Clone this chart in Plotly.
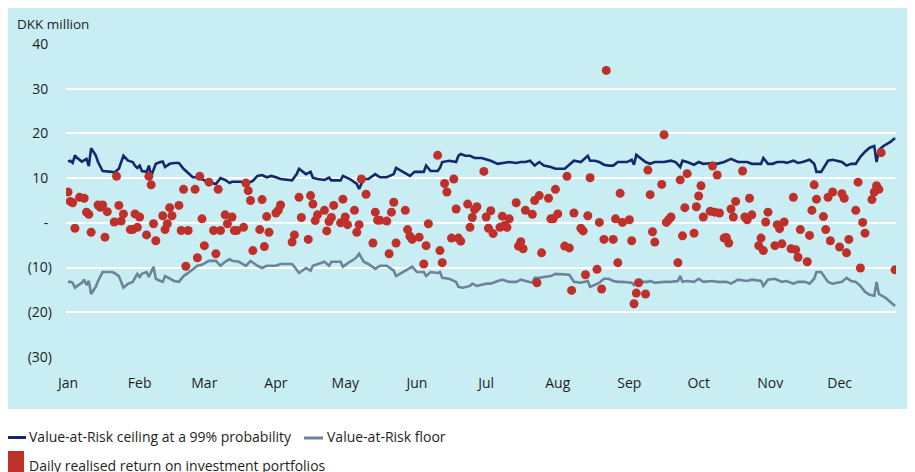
import pandas as pd
import plotly.graph_objects as go

# ---------------- data ----------------
YEAR_START = "2023-01-01"

ceiling_days = [0, 1, 2, 3, 4, 6, 8, 9, 10, 12, 13, 15, 19, 20, 22, 24, 26, 28, 29, 30, 31, 32, 34, 35, 36, 38,
                40, 41, 42, 44, 46, 48, 50, 52, 54, 56, 58, 61, 64, 66, 68, 70, 71, 75, 77, 80, 82, 84, 86, 88,
                90, 92, 97, 99, 100, 103, 105, 106, 108, 111, 113, 114, 118, 119, 122, 124, 125, 126, 128, 130,
                133, 135, 138, 141, 142, 145, 148, 150, 154, 155, 157, 160, 161, 162, 165, 168, 169, 170, 172,
                174, 176, 179, 183, 186, 188, 191, 194, 196, 198, 200, 202, 204, 206, 209, 211, 215, 217, 219,
                222, 225, 226, 228, 230, 232, 234, 236, 238, 240, 242, 244, 245, 246, 248, 250, 252, 254, 256,
                258, 261, 263, 265, 266, 268, 271, 273, 275, 279, 281, 284, 287, 290, 294, 296, 300, 301, 303,
                305, 307, 310, 311, 314, 316, 318, 321, 323, 324, 326, 329, 331, 333, 335, 337, 339, 341, 343,
                345, 347, 349, 350, 351, 353, 356, 358]
ceiling_vals = [13.7, 13.9, 13.4, 15.1, 14.5, 13.7, 14.3, 12.7, 16.7, 15.1, 13.6, 11.6, 11.4, 11.2, 12.1, 15.0,
                13.9, 13.6, 12.8, 12.3, 12.8, 11.6, 11.4, 12.8, 10.5, 13.2, 13.6, 13.7, 12.5, 13.2, 13.4, 13.4,
                12.1, 11.2, 10.2, 10.2, 9.7, 9.1, 8.7, 10.0, 9.6, 8.9, 9.2, 9.2, 8.7, 9.4, 10.5, 10.7, 10.2,
                10.5, 10.2, 9.8, 9.5, 10.9, 12.1, 10.9, 11.4, 10.1, 9.8, 9.6, 10.1, 9.5, 9.5, 10.5, 9.8, 9.1,
                8.7, 7.6, 9.8, 9.8, 10.9, 10.2, 10.2, 10.9, 12.3, 11.4, 10.5, 11.4, 11.4, 12.8, 11.6, 11.6, 12.3,
                13.6, 13.9, 13.6, 15.0, 15.4, 15.0, 15.0, 14.5, 14.5, 13.9, 13.2, 13.4, 13.6, 13.4, 13.6, 13.6,
                13.9, 12.8, 13.6, 12.8, 12.5, 12.1, 12.1, 13.0, 13.9, 13.6, 15.0, 13.9, 13.9, 13.6, 13.0, 12.8,
                12.8, 13.6, 13.6, 13.6, 14.1, 13.0, 15.2, 14.3, 13.6, 13.2, 13.6, 13.6, 13.6, 13.9, 13.6, 12.5,
                13.9, 13.6, 13.0, 13.6, 13.2, 13.4, 13.2, 13.6, 14.3, 13.6, 13.6, 13.2, 13.2, 14.5, 13.2, 13.2,
                13.6, 13.6, 13.4, 13.9, 13.4, 13.6, 14.1, 13.2, 11.4, 11.4, 13.9, 14.1, 13.9, 13.6, 12.8, 13.2,
                13.2, 14.8, 15.9, 16.8, 17.2, 13.6, 16.3, 17.2, 18.1, 19.0]

floor_days = [0, 1, 2, 3, 4, 6, 7, 8, 9, 10, 12, 13, 15, 19, 20, 22, 24, 26, 28, 29, 30, 31, 32, 34, 35, 37,
              38, 40, 41, 42, 44, 46, 48, 50, 52, 54, 56, 58, 61, 64, 66, 68, 70, 71, 74, 77, 79, 82, 84, 86,
              88, 90, 92, 97, 99, 100, 103, 105, 106, 108, 111, 113, 114, 118, 119, 122, 124, 125, 126, 128,
              130, 133, 135, 138, 141, 142, 145, 149, 151, 154, 155, 157, 160, 161, 162, 165, 168, 169, 171,
              174, 175, 177, 181, 183, 186, 188, 191, 194, 196, 199, 201, 202, 204, 206, 209, 211, 215, 217,
              219, 222, 225, 226, 228, 230, 232, 234, 236, 238, 240, 244, 245, 246, 248, 251, 252, 254, 258,
              261, 264, 265, 266, 268, 271, 273, 275, 279, 281, 284, 285, 287, 290, 294, 296, 300, 301, 303,
              306, 309, 311, 314, 316, 319, 321, 323, 324, 326, 329, 331, 333, 335, 337, 339, 341, 343, 345,
              347, 349, 350, 351, 354, 356, 358]
floor_vals = [-13.2, -13.2, -13.4, -14.5, -14.1, -13.4, -12.7, -13.9, -13.0, -15.9, -14.3, -13.0, -11.0, -11.0,
              -11.2, -11.9, -14.5, -13.6, -13.2, -12.3, -11.4, -12.1, -11.4, -11.0, -12.1, -9.8, -12.5, -13.0,
              -13.2, -11.9, -12.5, -13.0, -13.2, -11.9, -11.2, -10.3, -9.6, -9.4, -8.5, -8.5, -9.6, -8.7, -8.1,
              -8.5, -8.7, -9.6, -8.5, -9.6, -10.1, -9.6, -9.6, -9.6, -9.2, -9.2, -10.5, -11.2, -10.1, -10.7,
              -9.6, -9.2, -8.7, -9.6, -8.7, -8.7, -9.8, -8.7, -8.1, -7.6, -6.9, -8.7, -9.2, -10.3, -9.6, -9.6,
              -10.7, -11.9, -11.0, -9.8, -11.0, -11.0, -11.9, -11.0, -11.2, -11.0, -12.3, -12.5, -13.2, -14.3,
              -14.5, -14.1, -13.6, -14.1, -13.6, -13.6, -13.0, -12.7, -13.2, -13.2, -12.7, -13.2, -13.4, -12.3,
              -12.3, -12.1, -11.9, -11.4, -11.6, -11.6, -13.2, -13.4, -13.0, -14.3, -13.9, -13.4, -12.5, -12.5,
              -13.0, -13.2, -13.2, -13.4, -13.9, -13.0, -13.2, -13.2, -13.0, -13.4, -13.2, -13.2, -13.0, -11.9,
              -13.2, -13.0, -13.2, -12.5, -13.2, -13.0, -13.2, -13.2, -13.2, -13.6, -12.7, -13.0, -12.7, -13.0,
              -14.1, -12.7, -12.5, -13.2, -13.0, -13.6, -13.2, -13.2, -13.6, -12.5, -11.0, -11.0, -13.2, -13.6,
              -13.4, -13.2, -12.3, -13.0, -13.2, -14.1, -15.4, -16.1, -16.3, -13.2, -15.9, -16.8, -17.7, -18.6]

return_days = [0, 1, 2, 3, 5, 7, 8, 9, 10, 13, 14, 15, 16, 17, 20, 21, 22, 23, 24, 27, 28, 29, 30, 31, 34, 35,
               36, 37, 38, 41, 42, 43, 44, 45, 48, 49, 50, 51, 52, 55, 56, 57, 58, 59, 61, 63, 64, 65, 66, 68,
               69, 71, 72, 73, 76, 77, 78, 79, 80, 83, 84, 85, 86, 87, 90, 91, 92, 97, 98, 100, 101, 104, 105,
               106, 107, 108, 111, 112, 113, 114, 115, 118, 119, 120, 121, 124, 125, 126, 127, 129, 132, 133,
               134, 135, 138, 139, 140, 141, 142, 146, 147, 148, 149, 152, 154, 155, 156, 160, 161, 162, 163,
               164, 166, 167, 168, 169, 170, 173, 174, 175, 176, 177, 180, 181, 182, 183, 184, 187, 188, 189,
               190, 191, 194, 195, 196, 197, 198, 201, 202, 203, 204, 205, 208, 209, 210, 211, 212, 215, 216,
               217, 218, 219, 222, 223, 224, 225, 226, 229, 230, 231, 232, 233, 236, 237, 238, 239, 240, 243,
               244, 245, 246, 247, 250, 251, 252, 253, 254, 257, 258, 259, 260, 261, 264, 265, 266, 267, 268,
               271, 272, 273, 274, 275, 278, 279, 280, 281, 282, 284, 285, 286, 287, 288, 289, 292, 293, 294,
               295, 296, 299, 300, 301, 302, 303, 306, 307, 308, 309, 310, 313, 314, 315, 316, 317, 320, 321,
               322, 323, 324, 327, 328, 329, 330, 331, 334, 335, 336, 337, 338, 341, 342, 343, 344, 345, 348,
               349, 350, 351, 352, 358]
return_vals = [6.9, 4.8, 4.5, -1.2, 5.7, 5.5, 2.4, 1.9, -2.1, 4.0, 3.5, 4.0, -3.2, 2.5, 0.2, 10.4, 3.9, 0.4,
               2.0, -1.5, -1.5, 2.0, -1.0, 1.3, -2.7, 10.4, 8.5, -0.2, -4.0, 1.6, -1.5, -0.2, 3.4, 1.6, 3.9,
               -1.7, 7.5, -9.7, -1.7, 7.5, -7.8, 10.4, 0.9, -5.1, 9.1, -1.7, -6.9, 7.5, -1.7, 1.8, -0.2, 1.3,
               -1.7, -1.7, -1.0, 8.9, 7.2, 5.0, -6.2, -1.5, 5.2, -5.3, 1.4, -2.1, 2.2, 2.8, 4.0, -4.3, -2.7,
               5.7, 1.2, -3.7, 6.1, 4.2, 0.5, 1.8, 2.8, -1.8, 0.3, 1.2, 3.9, 0.0, 5.3, 1.3, -0.4, 2.8, -2.1,
               -0.4, 9.8, 6.4, -4.5, 2.4, 0.6, 0.6, 0.4, -6.9, 2.4, 4.6, -4.5, 2.8, -1.5, -3.0, -3.7, -3.2,
               -9.2, -5.1, -0.2, 15.1, -6.2, -8.9, 8.8, 6.9, -3.4, 9.8, 3.1, -3.4, -4.1, 4.2, -1.0, 1.2, 3.0,
               3.6, 11.5, 1.3, -1.2, 2.7, -2.4, -1.0, 1.5, -0.6, -1.0, 0.9, 4.5, -5.2, -4.2, -5.8, 2.8, 1.9,
               5.0, -13.4, 6.1, -6.7, 5.5, 0.9, 0.9, 7.5, 2.0, -5.2, 10.4, -5.6, -15.1, 2.2, -1.2, -1.8, -11.6,
               1.6, 10.1, -10.4, 0.1, -14.8, -3.7, 34.1, -3.7, 0.9, -8.9, 6.6, 0.1, 0.7, -4.0, -18.1, -15.7,
               -13.4, -15.9, 11.8, 6.3, -2.0, -4.3, 8.6, 19.7, 0.1, 0.7, 1.3, -8.9, 9.6, -2.9, 3.4, 11.0, -2.3,
               3.6, 6.0, 8.3, 1.3, 2.6, 12.7, 2.4, 10.7, 2.2, -3.4, -3.3, -4.5, 3.1, 1.3, 4.8, 11.6, 1.3, 0.7,
               5.5, 1.8, -5.1, -3.4, -6.2, 0.2, 2.4, -5.1, -0.4, -1.3, -4.7, 0.2, -5.8, 5.7, -6.0, -7.7, -1.5,
               -8.7, -2.8, 2.8, 8.5, 5.3, 1.4, -1.5, 5.7, -4.0, 6.9, -5.4, 6.5, 5.5, -6.7, -3.7, 2.8, 9.1,
               -10.1, 0.1, -2.3, 5.2, 6.9, 8.3, 7.5, 15.7, -10.5]

y_tickvals = [-30, -20, -10, 0, 10, 20, 30, 40]
y_ticktext = ["(30)", "(20)", "(10)", "-\u00a0", "10\u00a0", "20\u00a0", "30\u00a0", "40\u00a0"]

names = ["Value-at-Risk ceiling at a 99% probability",
         "Value-at-Risk floor",
         "Daily realised return on investment portfolios"]

# ---------------- styling ----------------
W, H = 915, 472
OFF = 8                      # page body margin: the figure starts at (8, 8) of the window
PL, PR, PT, PB = 66, 896, 44, 357   # plot area in window pixels
L, R = PL - OFF, W - (PR - OFF)
T, B = PT - OFF, H - (PB - OFF)
PW, PH = PR - PL, PB - PT
FONT = "Open Sans"
NAVY = "#13296b"
SLATE = "#6d8399"
RED = "#c0302b"
PANEL = "#c8eef4"
TXT = "#1e1e1e"


def px_x(px):
    return (px - PL) / PW


def px_y(py):
    return (PB - py) / PH


def to_dates(days):
    return pd.Timestamp(YEAR_START) + pd.to_timedelta(days, unit="D")


fig = go.Figure()
fig.add_trace(go.Scatter(x=to_dates(ceiling_days), y=ceiling_vals, mode="lines",
                         line=dict(color=NAVY, width=2.6), name=names[0]))
fig.add_trace(go.Scatter(x=to_dates(floor_days), y=floor_vals, mode="lines",
                         line=dict(color=SLATE, width=2.6), name=names[1]))
fig.add_trace(go.Scatter(x=to_dates(return_days), y=return_vals, mode="markers",
                         marker=dict(color=RED, size=9, line=dict(width=0)), name=names[2]))

shapes = [
    dict(type="rect", xref="paper", yref="paper", x0=px_x(8), x1=px_x(925), y0=px_y(409), y1=px_y(8),
         fillcolor=PANEL, line=dict(width=0), layer="below"),
    dict(type="line", xref="paper", yref="paper", x0=px_x(2), x1=px_x(26), y0=px_y(437.5), y1=px_y(437.5),
         line=dict(color=NAVY, width=3)),
    dict(type="line", xref="paper", yref="paper", x0=px_x(304), x1=px_x(323), y0=px_y(438), y1=px_y(438),
         line=dict(color=SLATE, width=3)),
    dict(type="rect", xref="paper", yref="paper", x0=px_x(3), x1=px_x(24), y0=px_y(474), y1=px_y(451),
         fillcolor=RED, line=dict(width=0)),
]

annotations = [
    dict(text="DKK million", xref="paper", yref="paper", x=px_x(15), y=px_y(24), xanchor="left",
         yanchor="middle", showarrow=False, font=dict(family=FONT, size=13.5, color=TXT)),
    dict(text=names[0], xref="paper", yref="paper", x=px_x(27), y=px_y(436), xanchor="left",
         yanchor="middle", showarrow=False, font=dict(family=FONT, size=14, color=TXT)),
    dict(text=names[1], xref="paper", yref="paper", x=px_x(325), y=px_y(436), xanchor="left",
         yanchor="middle", showarrow=False, font=dict(family=FONT, size=14, color=TXT)),
    dict(text=names[2], xref="paper", yref="paper", x=px_x(27), y=px_y(465), xanchor="left",
         yanchor="middle", showarrow=False, font=dict(family=FONT, size=14, color=TXT)),
]

fig.update_layout(
    width=W, height=H,
    margin=dict(l=L, r=R, t=T, b=B, autoexpand=False),
    paper_bgcolor="white",
    plot_bgcolor="rgba(0,0,0,0)",
    showlegend=False,
    font=dict(family=FONT, size=14, color=TXT),
    shapes=shapes,
    annotations=annotations,
    xaxis=dict(
        type="date",
        range=["2022-12-31 03:00", "2023-12-25 10:00"],
        tick0=YEAR_START, dtick="M1", tickformat="%b",
        showgrid=False, zeroline=False, showline=False, ticks="",
        ticklabelstandoff=16,
        tickfont=dict(family=FONT, size=14, color=TXT),
    ),
    yaxis=dict(
        range=[-30, 40],
        tickvals=y_tickvals, ticktext=y_ticktext,
        showgrid=True, gridcolor="white", gridwidth=2,
        zeroline=False, showline=False, ticks="",
        ticklabelstandoff=13,
        tickfont=dict(family=FONT, size=14, color=TXT),
    ),
)

fig.write_html("out.html")
